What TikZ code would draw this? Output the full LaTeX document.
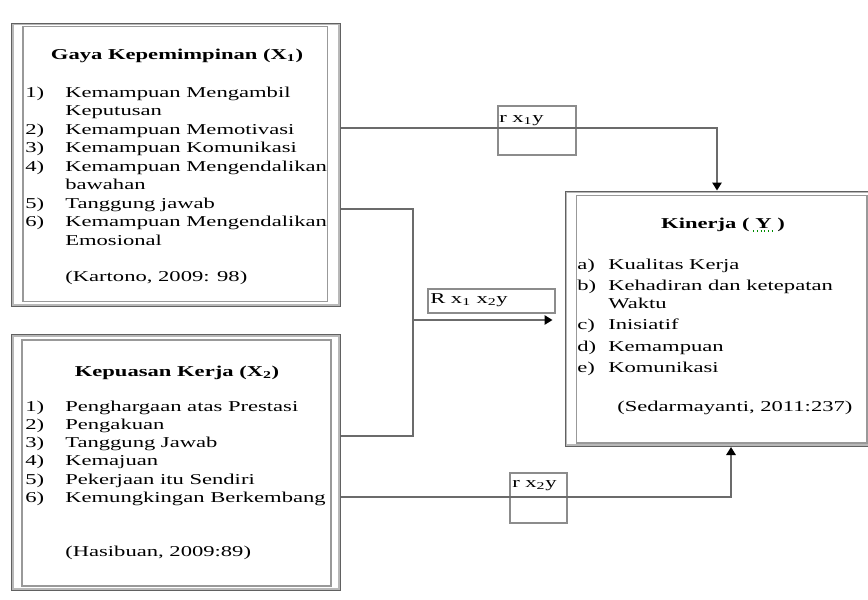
\documentclass[tikz,border=0pt]{standalone}
\usepackage{fontspec}
\setmainfont[FakeStretch=1.5]{Liberation Serif}
\usetikzlibrary{arrows.meta,fit,calc}
\begin{document}
\begin{tikzpicture}[x=0.75pt,y=-0.75pt,
  frame/.style={inner sep=0pt, draw=black!62, line width=1.5pt},
  conn/.style={draw=black!58, line width=1.4pt},
  arr/.style={-{Triangle[width=7pt,length=6pt,color=black]}},
  lbl/.style={inner sep=0pt, draw=black!45, line width=0.8pt},
  txt/.style={inner sep=0pt, anchor=base west, font=\fontsize{11.3}{13}\selectfont},
  ttl/.style={inner sep=0pt, anchor=base, font=\fontsize{11.3}{13}\selectfont\bfseries}]
\useasboundingbox (0,0) rectangle (868,600);

% boxes
\node[frame, fit={(12,23.5) (340,306)}] (x1) {};
\node[frame, fit={(12,335) (340,590)}] (x2) {};
\node[frame, fit={(565.5,191.5) (878,446)}] (kin) {};
\foreach \b/\l/\t/\r/\u in {x1/12/4/-13.5/-5.5, x2/11/6/-10/-5, kin/12/5/-12/-4}{
  \draw[black!28, line width=1pt] ([shift={(2,2)}]\b.north west) rectangle ([shift={(-2,-2)}]\b.south east);
  \draw[black!40, line width=0.9pt] ([shift={(\l,\t)}]\b.north west) rectangle ([shift={(\r,\u)}]\b.south east);
}

% label boxes
\node[lbl, fit={(498,106) (576,155)}] (b1) {};
\node[lbl, fit={(428,289) (555,313)}] (b2) {};
\node[lbl, fit={(510,473) (567,523)}] (b3) {};

% connectors
\coordinate (jn) at (413,320);
\draw[conn,arr] ($(x1.north east)+(0,105.5)$) -| ($(kin.north west)+(152.5,0)$);
\draw[conn] ($(x1.north east)+(0,186.5)$) -| (jn) |- ($(x2.north east)+(0,102)$);
\draw[conn,arr] (jn) -- ($(kin.west |- jn)+(-12,0)$);
\draw[conn,arr] ($(x2.north east)+(0,163)$) -| ($(kin.south west)+(166.5,0)$);

% label texts
\node[txt] (l1) at (499,122) {r x\textsubscript{1}y};
\node[txt] (l2) at (430,303.5) {R x\textsubscript{1} x\textsubscript{2}y};
\node[txt] (l3) at (512,487.5) {r x\textsubscript{2}y};

% X1 texts
\node[ttl] (t1) at (177,59.5) {Gaya Kepemimpinan (X\textsubscript{1})};
\node[txt] (n11) at (25,97) {1)};
\node[txt] (a11) at (65,97) {Kemampuan Mengambil};
\node[txt] (a12) at (65,115.5) {Keputusan};
\node[txt] (n12) at (25,134) {2)};
\node[txt] (a13) at (65,134) {Kemampuan Memotivasi};
\node[txt] (n13) at (25,152.5) {3)};
\node[txt] (a14) at (65,152.5) {Kemampuan Komunikasi};
\node[txt] (n14) at (25,171) {4)};
\node[txt] (a15) at (65,171) {Kemampuan Mengendalikan};
\node[txt] (a16) at (65,189.5) {bawahan};
\node[txt] (n15) at (25,208) {5)};
\node[txt] (a17) at (65,208) {Tanggung jawab};
\node[txt] (n16) at (25,226.5) {6)};
\node[txt] (a18) at (65,226.5) {Kemampuan Mengendalikan};
\node[txt] (a19) at (65,245) {Emosional};
\node[txt] (s1) at (65,281.5) {(Kartono, 2009: 98)};

% X2 texts
\node[ttl] (t2) at (177,376) {Kepuasan Kerja (X\textsubscript{2})};
\node[txt] (n21) at (25,411) {1)};
\node[txt] (a21) at (65,411) {Penghargaan atas Prestasi};
\node[txt] (n22) at (25,429) {2)};
\node[txt] (a22) at (65,429) {Pengakuan};
\node[txt] (n23) at (25,447.5) {3)};
\node[txt] (a23) at (65,447.5) {Tanggung Jawab};
\node[txt] (n24) at (25,465.5) {4)};
\node[txt] (a24) at (65,465.5) {Kemajuan};
\node[txt] (n25) at (25,484) {5)};
\node[txt] (a25) at (65,484) {Pekerjaan itu Sendiri};
\node[txt] (n26) at (25,502) {6)};
\node[txt] (a26) at (65,502) {Kemungkingan Berkembang};
\node[txt] (s2) at (65,556) {(Hasibuan, 2009:89)};

% Kinerja texts
\node[ttl] (t3) at (723,228) {Kinerja ( Y )};
\draw[green!55!black, dotted, line width=0.8pt] ($(t3.base east)+(-32,3)$) -- ($(t3.base east)+(-10,3)$);
\node[txt] (n31) at (577,269.5) {a)};
\node[txt] (a31) at (608,269.5) {Kualitas Kerja};
\node[txt] (n32) at (577,290.5) {b)};
\node[txt] (a32) at (608,290.5) {Kehadiran dan ketepatan};
\node[txt] (a33) at (608,308.5) {Waktu};
\node[txt] (n33) at (577,329.5) {c)};
\node[txt] (a34) at (608,329.5) {Inisiatif};
\node[txt] (n34) at (577,351) {d)};
\node[txt] (a35) at (608,351) {Kemampuan};
\node[txt] (n35) at (577,372) {e)};
\node[txt] (a36) at (608,372) {Komunikasi};
\node[txt] (s3) at (617,411) {(Sedarmayanti, 2011:237)};
\end{tikzpicture}
\end{document}
